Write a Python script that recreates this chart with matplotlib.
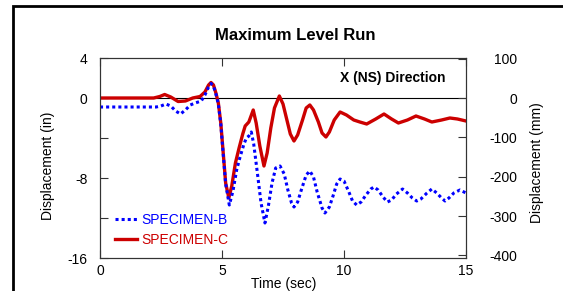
import matplotlib
matplotlib.use('Agg')
import matplotlib.pyplot as plt
from matplotlib.patches import Rectangle

plt.rcParams['font.family'] = ['Liberation Sans', 'DejaVu Sans']
plt.rcParams['font.size'] = 10
plt.rcParams['axes.unicode_minus'] = False

# (time in sec, displacement in inches)
t_b = [0.0, 2.3, 2.5, 2.7, 2.9, 3.1, 3.3, 3.5, 3.7, 3.9, 4.15, 4.3, 4.45, 4.55,
       4.65, 4.75, 4.85, 4.95, 5.05, 5.15, 5.3, 5.45, 5.6, 5.74, 5.9, 6.0, 6.1,
       6.2, 6.3, 6.45, 6.6, 6.76, 6.9, 7.05, 7.2, 7.38, 7.55, 7.7, 7.85, 7.95,
       8.1, 8.25, 8.45, 8.6, 8.75, 8.9, 9.1, 9.22, 9.4, 9.55, 9.7, 9.84, 10.0,
       10.2, 10.35, 10.52, 10.7, 10.9, 11.1, 11.23, 11.4, 11.6, 11.78, 11.95,
       12.15, 12.4, 12.6, 12.8, 12.98, 13.15, 13.4, 13.6, 13.8, 14.0, 14.14,
       14.3, 14.5, 14.75, 15.0]
disp_b = [-0.9, -0.9, -0.8, -0.6, -0.8, -1.3, -1.6, -1.2, -0.7, -0.5, -0.3, 0.3,
          1.1, 1.45, 1.2, 0.4, -0.6, -2.6, -5.6, -8.6, -10.7, -9.3, -7.2, -5.9,
          -4.6, -4.0, -3.8, -3.4, -4.6, -7.5, -10.5, -12.5, -10.8, -8.5, -7.0,
          -6.8, -7.6, -9.2, -10.5, -10.9, -10.4, -9.2, -7.7, -7.3, -7.9, -9.4,
          -11.0, -11.5, -10.9, -9.8, -8.6, -8.1, -8.3, -9.4, -10.3, -10.7, -10.4,
          -9.7, -9.1, -8.9, -9.2, -9.9, -10.4, -10.2, -9.6, -9.1, -9.5, -10.0,
          -10.3, -10.1, -9.5, -9.1, -9.5, -10.0, -10.3, -10.0, -9.5, -9.2, -9.5]

t_c = [0.0, 2.2, 2.45, 2.65, 2.9, 3.2, 3.5, 3.8, 4.1, 4.3, 4.45, 4.55, 4.65,
       4.75, 4.85, 4.95, 5.05, 5.15, 5.28, 5.4, 5.55, 5.7, 5.85, 5.95, 6.1,
       6.28, 6.4, 6.55, 6.72, 6.85, 7.0, 7.15, 7.35, 7.5, 7.65, 7.8, 7.95, 8.1,
       8.3, 8.45, 8.6, 8.75, 8.95, 9.1, 9.26, 9.4, 9.6, 9.84, 10.1, 10.4, 10.65,
       10.93, 11.3, 11.64, 11.95, 12.23, 12.6, 12.95, 13.3, 13.6, 14.0, 14.34,
       14.65, 15.0]
disp_c = [0.0, 0.0, 0.15, 0.35, 0.1, -0.35, -0.3, 0.0, 0.15, 0.6, 1.3, 1.55,
          1.3, 0.5, -0.5, -2.5, -5.5, -8.5, -10.0, -8.8, -6.5, -5.0, -3.6, -2.8,
          -2.4, -1.2, -2.5, -4.8, -6.8, -5.5, -3.0, -1.0, 0.2, -0.6, -2.1, -3.6,
          -4.3, -3.7, -2.2, -1.0, -0.7, -1.2, -2.4, -3.5, -3.9, -3.4, -2.2, -1.4,
          -1.7, -2.2, -2.4, -2.6, -2.1, -1.6, -2.1, -2.5, -2.2, -1.8, -2.1, -2.4,
          -2.2, -2.0, -2.1, -2.3]

yticks_in = [4, 0, -4, -8, -12, -16]
ylabels_in = ['4', '0', '', '-8', '', '-16']
yticks_mm = [100, 0, -100, -200, -300, -400]
xticks = [0, 5, 10, 15]

blue = '#0000FF'
red = '#CC0000'

fig = plt.figure(figsize=(5.63, 2.91), dpi=100)
fig.patches.append(Rectangle((13 / 563, -0.2), 1.2, 1 - 6 / 291 + 0.2,
                             transform=fig.transFigure, fill=False,
                             edgecolor='black', linewidth=2))

ax = fig.add_axes([100 / 563, 1 - 258 / 291, 366 / 563, 200 / 291])
ax.axhline(0, color='black', linewidth=0.8, zorder=1)
ax.plot(t_b, disp_b, color=blue, linewidth=2.2, linestyle=(0, (1, 1)),
        label='SPECIMEN-B', zorder=3)
ax.plot(t_c, disp_c, color=red, linewidth=2.4, label='SPECIMEN-C', zorder=2)

ax.set_xlim(0, 15)
ax.set_ylim(-16, 4)
ax.set_xticks(xticks)
ax.set_yticks(yticks_in)
ax.set_yticklabels(ylabels_in)
ax.tick_params(direction='in', length=6, width=0.8, top=True, color='#333333')
ax.tick_params(axis='x', pad=4)
ax.tick_params(axis='y', pad=9)
for s in ax.spines.values():
    s.set_color('#333333')
    s.set_linewidth(0.8)

fig.text(284 / 563, 1 - 284 / 291, 'Time (sec)', ha='center', va='center')
ax.set_ylabel('Displacement (in)')
ax.yaxis.set_label_coords(-45 / 366, 0.46)

ax2 = ax.twinx()
ax2.set_ylim(-16 * 25.4, 4 * 25.4)
ax2.set_yticks(yticks_mm)
ax2.tick_params(direction='in', length=6, width=0.8, pad=37, color='#333333')
for lbl in ax2.get_yticklabels():
    lbl.set_horizontalalignment('right')
ax2.set_ylabel('Displacement (mm)')
ax2.yaxis.set_label_coords(1 + 64 / 366, 0.475)
for s in ax2.spines.values():
    s.set_color('#333333')
    s.set_linewidth(0.8)

fig.text(295 / 563, 1 - 35 / 291, 'Maximum Level Run', ha='center',
         va='center', fontsize=12, fontweight='bold')
ax.text(0.945, 0.9, 'X (NS) Direction', transform=ax.transAxes, ha='right',
        va='center', fontsize=10, fontweight='bold')

leg = ax.legend(loc='upper left', bbox_to_anchor=(15 / 366, 0.225),
                frameon=False, borderpad=0, borderaxespad=0,
                handlelength=1.6, handletextpad=0.3, labelspacing=0.45,
                labelcolor='linecolor')

fig.savefig('out.png', dpi=100)
